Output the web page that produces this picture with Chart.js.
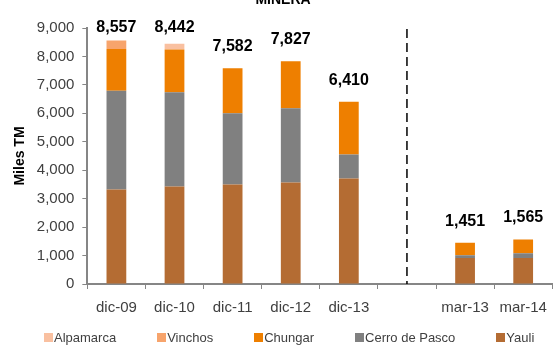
<!DOCTYPE html>
<html>
<head>
<meta charset="utf-8">
<script src="https://cdn.jsdelivr.net/npm/chart.js"></script>
<style>
  body { margin: 0; background: #fff; }
  #wrap { width: 557px; height: 345px; position: relative; overflow: hidden; }
  #legend {
    position: absolute; left: 44px; top: 331px;
    display: flex; gap: 41px;
    font: 13px 'Liberation Sans', Arial, sans-serif; color: #404040;
    line-height: 14px; white-space: nowrap;
  }
  #legend span.box { display: inline-block; width: 9px; height: 9px; margin-right: 1px; }
</style>
</head>
<body>
<div id="wrap">
  <canvas id="myChart" width="557" height="345"></canvas>
  <div id="legend"></div>
</div>
<script>
// categories, the empty one is the gap where the dashed separator goes
let labels = ['dic-09', 'dic-10', 'dic-11', 'dic-12', 'dic-13', '', 'mar-13', 'mar-14']
let yauli = [3320, 3430, 3500, 3570, 3710, null, 910, 910]
let cerroDePasco = [3475, 3310, 2500, 2605, 840, null, 105, 175]
let chungar = [1468, 1500, 1582, 1652, 1860, null, 436, 480]
let vinchos = [294, 0, 0, 0, 0, null, 0, 0]
let alpamarca = [0, 202, 0, 0, 0, null, 0, 0]
let totals = ['8,557', '8,442', '7,582', '7,827', '6,410', '', '1,451', '1,565']
let yTicks = [0, 1000, 2000, 3000, 4000, 5000, 6000, 7000, 8000, 9000]
let separatorAt = 5

let font = "'Liberation Sans', Arial, sans-serif"

// total labels over each stack + dashed separator + cut title
let extras = {
  id: 'extras',
  afterDatasetsDraw(chart) {
    let ctx = chart.ctx
    let x = chart.scales.x
    let y = chart.scales.y
    ctx.save()
    ctx.font = 'bold 16px ' + font
    ctx.fillStyle = '#000'
    ctx.textAlign = 'center'
    ctx.textBaseline = 'alphabetic'
    totals.forEach((t, i) => {
      if (!t) return
      let sum = yauli[i] + cerroDePasco[i] + chungar[i] + vinchos[i] + alpamarca[i]
      let top = y.getPixelForValue(sum)
      ctx.fillText(t, x.getPixelForValue(i), Math.max(32, top - 17))
    })
    // dashed line
    let sx = x.getPixelForValue(separatorAt)
    ctx.strokeStyle = '#000'
    ctx.lineWidth = 1.5
    ctx.setLineDash([9, 5])
    ctx.beginPath()
    ctx.moveTo(sx, 29)
    ctx.lineTo(sx, y.bottom)
    ctx.stroke()
    ctx.setLineDash([])
    // title, only its lower part is visible
    ctx.font = 'bold 14px ' + font
    ctx.fillText('MINERA', 283, 4)
    ctx.restore()
  },
}

let myChart = document.getElementById('myChart').getContext('2d')

let chart = new Chart(myChart, {
  type: 'bar',
  data: {
    labels: labels,
    datasets: [
      { label: 'Yauli', data: yauli, backgroundColor: '#B46C33' },
      { label: 'Cerro de Pasco', data: cerroDePasco, backgroundColor: '#808080' },
      { label: 'Chungar', data: chungar, backgroundColor: '#EE7F00' },
      { label: 'Vinchos', data: vinchos, backgroundColor: '#F7A46C' },
      { label: 'Alpamarca', data: alpamarca, backgroundColor: '#F9C0A0' },
    ],
  },
  options: {
    responsive: false,
    animation: false,
    layout: {
      padding: { top: 28, right: 1, left: 0, bottom: 18 },
    },
    datasets: {
      bar: { categoryPercentage: 1, barPercentage: 0.34 },
    },
    plugins: {
      legend: { display: false },
      tooltip: { enabled: false },
    },
    scales: {
      x: {
        stacked: true,
        grid: {
          offset: true,
          drawOnChartArea: false,
          tickLength: 5,
          color: '#868686',
        },
        border: { color: '#868686', width: 2 },
        ticks: {
          color: '#404040',
          padding: 10,
          font: { family: font, size: 15 },
          maxRotation: 0,
        },
      },
      y: {
        stacked: true,
        min: 0,
        max: 9000,
        afterBuildTicks(axis) {
          axis.ticks = yTicks.map((v) => ({ value: v }))
        },
        grid: {
          drawOnChartArea: false,
          tickLength: 5,
          color: '#868686',
        },
        border: { color: '#868686', width: 2 },
        ticks: {
          color: '#404040',
          padding: 8,
          font: { family: font, size: 15 },
          callback: (v) => v.toLocaleString('en-US'),
        },
        title: {
          display: true,
          text: 'Miles TM',
          color: '#000',
          font: { family: font, size: 14, weight: 'bold' },
          padding: { top: 12, bottom: 0 },
        },
      },
    },
  },
  plugins: [extras],
})

// legend in the reverse order of the stack, like the original
let legendEl = document.getElementById('legend')
chart.data.datasets.slice().reverse().forEach((ds) => {
  let item = document.createElement('div')
  let box = document.createElement('span')
  box.className = 'box'
  box.style.background = ds.backgroundColor
  item.appendChild(box)
  item.appendChild(document.createTextNode(ds.label))
  legendEl.appendChild(item)
})
</script>
</body>
</html>
